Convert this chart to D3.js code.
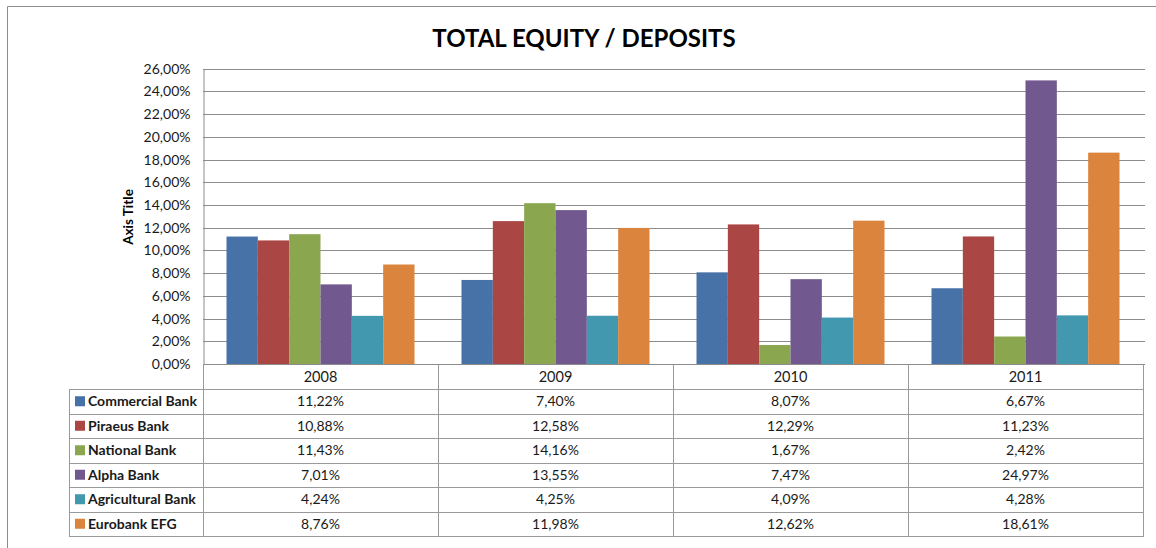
<!DOCTYPE html>
<html><head><meta charset="utf-8">
<script src="https://cdn.jsdelivr.net/npm/d3@7"></script>
<style>
html,body{margin:0;padding:0;background:#fff;}
svg{display:block;font-family:Lato,"Open Sans",sans-serif;}
</style></head><body>
<svg id="chart" width="1156" height="548"></svg>
<script>
const years = ["2008","2009","2010","2011"];
const banks = ["Commercial Bank","Piraeus Bank","National Bank","Alpha Bank","Agricultural Bank","Eurobank EFG"];
const commercial = [11.22, 7.40, 8.07, 6.67];
const piraeus = [10.88, 12.58, 12.29, 11.23];
const national = [11.43, 14.16, 1.67, 2.42];
const alpha = [7.01, 13.55, 7.47, 24.97];
const agricultural = [4.24, 4.25, 4.09, 4.28];
const eurobank = [8.76, 11.98, 12.62, 18.61];
const yTicks = [0,2,4,6,8,10,12,14,16,18,20,22,24,26];
const colors = ["#4672A8","#AA4644","#8AA64F","#71588F","#4198AF","#DB843D"];
const seriesValues = [commercial, piraeus, national, alpha, agricultural, eurobank];

const svg = d3.select("#chart");
const L = 203, R = 1143, T = 68.7, B = 364;
const tableLeft = 69, rowH = 24.5, headerH = 25;

const fmt = v => v.toFixed(2).replace(".", ",") + "%";

// outer border
svg.append("line").attr("x1",7.5).attr("x2",1156).attr("y1",6.5).attr("y2",6.5).attr("stroke","#8c8c8c");
svg.append("line").attr("x1",7.5).attr("x2",7.5).attr("y1",6.5).attr("y2",548).attr("stroke","#8c8c8c");

// title
svg.append("text").attr("x",584).attr("y",47).attr("text-anchor","middle")
  .attr("font-size",24).attr("font-weight","bold").attr("fill","#000")
  .text("TOTAL EQUITY / DEPOSITS");

const y = d3.scaleLinear().domain([0,26]).range([B,T]);
const x0 = d3.scaleBand().domain(years).range([L,R]).paddingInner(0).paddingOuter(0);
const x1 = d3.scaleBand().domain(banks).range([0,x0.bandwidth()]).paddingInner(0).paddingOuter(0.75);

// gridlines
svg.append("g").selectAll("line").data(yTicks).join("line")
  .attr("x1",L).attr("x2",1145).attr("y1",d=>Math.round(y(d))+0.5).attr("y2",d=>Math.round(y(d))+0.5)
  .attr("stroke","#8c8c8c").attr("stroke-width",1);

// y axis
const yAxis = d3.axisLeft(y).tickValues(yTicks).tickSize(0).tickPadding(13).tickFormat(fmt);
const ya = svg.append("g").attr("transform",`translate(${L+0.5},0)`).call(yAxis);
ya.select(".domain").attr("stroke","#8c8c8c");
ya.selectAll("text").attr("font-size",14).attr("fill","#1a1a1a").attr("font-family","Lato,sans-serif");

// axis title
svg.append("text").attr("transform","translate(133,217) rotate(-90)").attr("text-anchor","middle")
  .attr("font-size",13.5).attr("font-weight","bold").attr("fill","#000").text("Axis Title");

// bars
const groups = svg.append("g").selectAll("g").data(years).join("g")
  .attr("transform",d=>`translate(${x0(d)},0)`);
groups.selectAll("rect").data((yr,i)=>banks.map((b,j)=>({bank:b,j,v:seriesValues[j][i]}))).join("rect")
  .attr("x",d=>x1(d.bank)).attr("width",x1.bandwidth())
  .attr("y",d=>y(d.v)).attr("height",d=>B-y(d.v))
  .attr("fill",d=>colors[d.j]);

// table
const tg = svg.append("g");
const lineColor = "#999";
for (let r=0; r<=banks.length; r++) {
  const yy = B + headerH + r*rowH;
  tg.append("line").attr("x1",tableLeft).attr("x2",R+1).attr("y1",Math.round(yy)+0.5).attr("y2",Math.round(yy)+0.5).attr("stroke",lineColor);
}
tg.append("line").attr("x1",L).attr("x2",R+1).attr("y1",B+0.5).attr("y2",B+0.5).attr("stroke","#8c8c8c");
const tableBottom = Math.round(B + headerH + banks.length*rowH)+0.5;
tg.append("line").attr("x1",tableLeft+0.5).attr("x2",tableLeft+0.5).attr("y1",Math.round(B+headerH)+0.5).attr("y2",tableBottom).attr("stroke",lineColor);
years.concat(["end"]).forEach((yr,i)=>{
  const xx = i<years.length ? x0(yr) : R;
  tg.append("line").attr("x1",Math.round(xx)+0.5).attr("x2",Math.round(xx)+0.5).attr("y1",B).attr("y2",tableBottom).attr("stroke",lineColor);
});
tg.selectAll("text.hdr").data(years).join("text").attr("class","hdr")
  .attr("x",d=>x0(d)+x0.bandwidth()/2).attr("y",B+headerH/2+5).attr("text-anchor","middle")
  .attr("font-size",14.5).attr("fill","#1a1a1a").text(d=>d);
banks.forEach((b,j)=>{
  const cy = B + headerH + j*rowH + rowH/2;
  tg.append("rect").attr("x",75).attr("y",cy-5).attr("width",10).attr("height",10).attr("fill",colors[j]);
  tg.append("text").attr("x",88).attr("y",cy+5).attr("font-size",14).attr("font-weight","bold").attr("fill","#1a1a1a").text(b);
  years.forEach((yr,i)=>{
    tg.append("text").attr("x",x0(yr)+x0.bandwidth()/2).attr("y",cy+5).attr("text-anchor","middle")
      .attr("font-size",14).attr("fill","#1a1a1a").text(fmt(seriesValues[j][i]));
  });
});
</script>
</body></html>
